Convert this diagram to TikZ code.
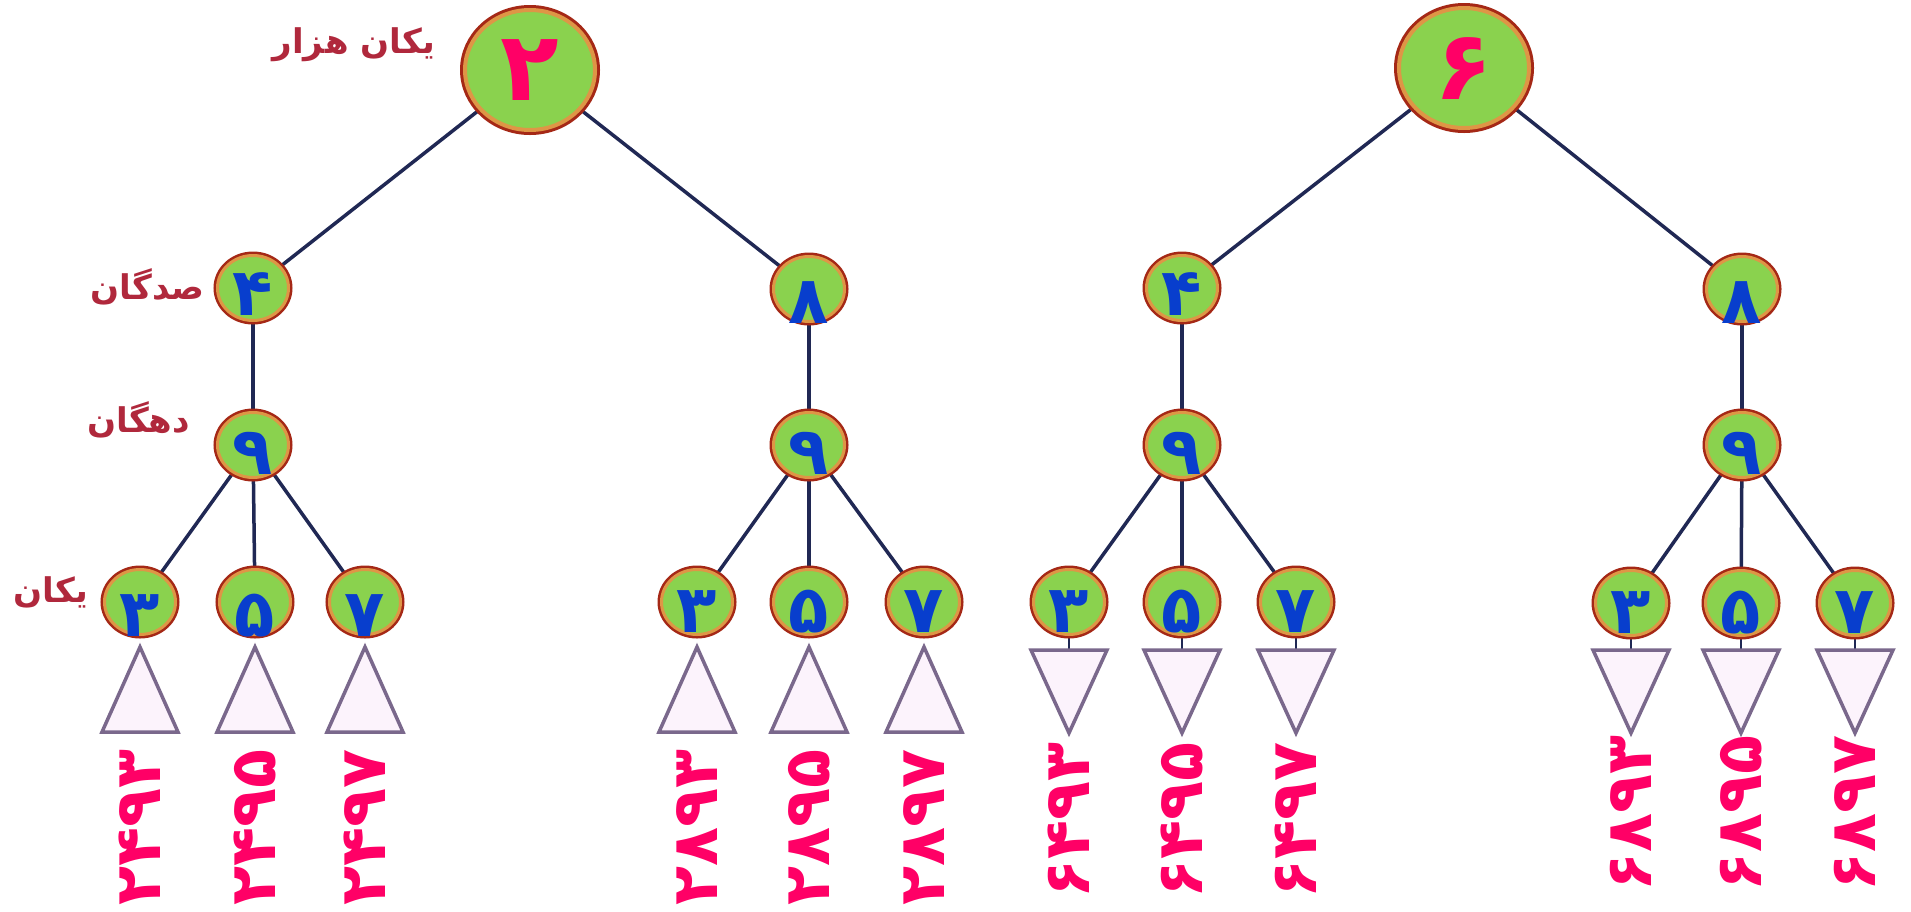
\documentclass[tikz,border=0pt]{standalone}
\usepackage{fontspec}
\TeXXeTstate=1
\newfontfamily\fa[Script=Arabic]{DejaVu Sans}
\usetikzlibrary{shapes.geometric,calc,backgrounds}
\definecolor{nodegreen}{RGB}{138,210,78}
\definecolor{noderim}{RGB}{165,40,22}
\definecolor{rimglow}{RGB}{222,150,70}
\definecolor{edgeblue}{RGB}{32,40,84}
\definecolor{tricol}{RGB}{122,104,140}
\definecolor{trifill}{RGB}{252,243,252}
\definecolor{lblred}{RGB}{176,40,60}
\definecolor{digpink}{RGB}{255,0,102}
\definecolor{digblue}{RGB}{8,62,205}
\begin{document}
\begin{tikzpicture}[x=1pt,y=-1pt,
 bignode/.style={ellipse, draw=rimglow, line width=4pt, fill=nodegreen, minimum width=130pt, minimum height=120pt, inner sep=0pt,
   preaction={draw=noderim, line width=10pt}},
 smallnode/.style={ellipse, draw=rimglow, line width=3pt, fill=nodegreen, minimum width=71pt, minimum height=65pt, inner sep=0pt,
   preaction={draw=noderim, line width=8pt}},
 link/.style={draw=edgeblue, line width=3.5pt},
 tri/.style={draw=tricol, line width=3.5pt, fill=trifill, line join=miter},
 lvl/.style={font=\fa\bfseries\fontsize{34}{34}\selectfont, text=lblred, anchor=east, inner sep=0pt},
 bigdig/.style={font=\fa\bfseries\fontsize{96}{96}\selectfont, text=digpink, inner sep=0pt},
 smalldig/.style={font=\fa\bfseries\fontsize{66}{66}\selectfont, text=digblue, inner sep=0pt},
 num/.style={font=\fa\bfseries\fontsize{64}{64}\selectfont, text=digpink, rotate=90, inner sep=0pt},
]
\useasboundingbox (0,0) rectangle (1911,911);

% level labels
\node[lvl] (t1) at (435,45) {\beginR یکان هزار\endR};
\node[lvl] (t2) at (205,287) {\beginR صدگان\endR};
\node[lvl] (t3) at (190,420) {\beginR دهگان\endR};
\node[lvl] (t4) at (88,592) {\beginR یکان\endR};

% roots
\node[bignode, label={[bigdig]center:۲}] (R1) at (530,70) {};
\node[bignode, label={[bigdig]center:۶}] (R2) at (1464,68) {};

% tree 1
\node[smallnode, label={[smalldig,yshift=-6pt]center:۴}] (A1) at (253,288) {};
\node[smallnode, label={[smalldig,yshift=-8pt]center:۹}] (B1) at (253,445) {};
\node[smallnode, label={[smalldig,yshift=-14pt]center:۳}] (L11) at (140,602) {};
\node[smallnode, label={[smalldig,yshift=-14pt]center:۵}] (L12) at (255,602) {};
\node[smallnode, label={[smalldig,yshift=-14pt]center:۷}] (L13) at (365,602) {};
% tree 2
\node[smallnode, label={[smalldig,yshift=-14pt]center:۸}] (A2) at (809,289) {};
\node[smallnode, label={[smalldig,yshift=-8pt]center:۹}] (B2) at (809,445) {};
\node[smallnode, label={[smalldig,yshift=-10pt]center:۳}] (L21) at (697,602) {};
\node[smallnode, label={[smalldig,yshift=-10pt]center:۵}] (L22) at (809,602) {};
\node[smallnode, label={[smalldig,yshift=-10pt]center:۷}] (L23) at (924,602) {};
% tree 3
\node[smallnode, label={[smalldig,yshift=-6pt]center:۴}] (A3) at (1182,288) {};
\node[smallnode, label={[smalldig,yshift=-8pt]center:۹}] (B3) at (1182,445) {};
\node[smallnode, label={[smalldig,yshift=-10pt]center:۳}] (L31) at (1069,602) {};
\node[smallnode, label={[smalldig,yshift=-10pt]center:۵}] (L32) at (1182,602) {};
\node[smallnode, label={[smalldig,yshift=-10pt]center:۷}] (L33) at (1296,602) {};
% tree 4
\node[smallnode, label={[smalldig,yshift=-14pt]center:۸}] (A4) at (1742,289) {};
\node[smallnode, label={[smalldig,yshift=-8pt]center:۹}] (B4) at (1742,445) {};
\node[smallnode, label={[smalldig,yshift=-10pt]center:۳}] (L41) at (1631,603) {};
\node[smallnode, label={[smalldig,yshift=-10pt]center:۵}] (L42) at (1741,603) {};
\node[smallnode, label={[smalldig,yshift=-10pt]center:۷}] (L43) at (1855,603) {};

% top of the downward triangles
\foreach \n/\x in {L31/1069,L32/1182,L33/1296,L41/1631,L42/1741,L43/1855}
  \coordinate (\n b) at (\x,650);

\begin{scope}[on background layer]
\fill[white] (0,0) rectangle (1911,911);
\draw[link] (R1) -- (A1);
\draw[link] (R1) -- (A2);
\draw[link] (R2) -- (A3);
\draw[link] (R2) -- (A4);
\foreach \t in {1,2,3,4}{
  \draw[link] (A\t) -- (B\t);
  \draw[link] (B\t) -- (L\t1);
  \draw[link] (B\t) -- (L\t2);
  \draw[link] (B\t) -- (L\t3);
}
\foreach \n in {L31,L32,L33,L41,L42,L43}
  \draw[link, line width=2.5pt] (\n) -- (\n b);
\end{scope}

% triangles
\foreach \x in {140,255,365,697,809,924}
  \draw[tri] (\x,647) -- (\x+38,732) -- (\x-38,732) -- cycle;
\foreach \x in {1069,1182,1296,1631,1741,1855}
  \draw[tri] (\x-38,650) -- (\x+38,650) -- (\x,733) -- cycle;

% numbers
\node[num] (n11) at (140,827) {۲۴۹۳};
\node[num] (n12) at (255,827) {۲۴۹۵};
\node[num] (n13) at (365,827) {۲۴۹۷};
\node[num] (n21) at (697,827) {۲۸۹۳};
\node[num] (n22) at (809,827) {۲۸۹۵};
\node[num] (n23) at (924,827) {۲۸۹۷};
\node[num] (n31) at (1069,820) {۶۴۹۳};
\node[num] (n32) at (1182,820) {۶۴۹۵};
\node[num] (n33) at (1296,820) {۶۴۹۷};
\node[num] (n41) at (1631,813) {۶۸۹۳};
\node[num] (n42) at (1741,813) {۶۸۹۵};
\node[num] (n43) at (1855,813) {۶۸۹۷};
\end{tikzpicture}
\end{document}
